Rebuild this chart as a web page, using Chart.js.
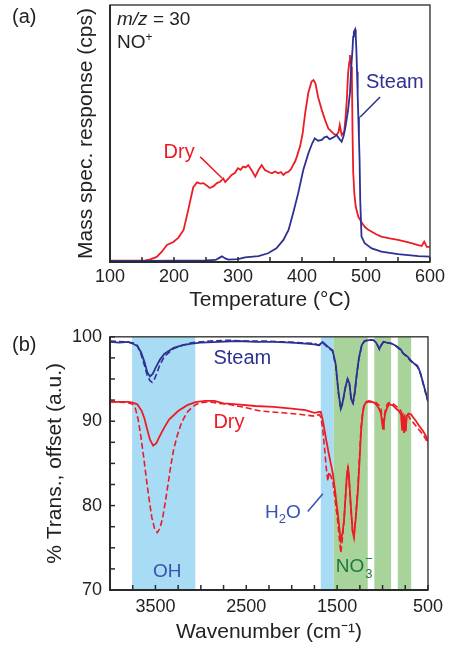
<!DOCTYPE html>
<html>
<head>
<meta charset="utf-8">
<script src="https://cdn.jsdelivr.net/npm/chart.js@4.4.0/dist/chart.umd.min.js"></script>
<style>
  body { margin: 0; background: #fff; width: 449px; height: 646px; position: relative; overflow: hidden; }
  #tpdChart { position: absolute; left: 0; top: 0; }
  #irChart { position: absolute; left: 0; top: 318px; }
</style>
</head>
<body>
<canvas id="tpdChart" width="449" height="318"></canvas>
<canvas id="irChart" width="449" height="328"></canvas>
<script>
// ---- (a) TPD, m/z = 30 ----
const dryTemp = [100,130,155,162,173,181,189,199,207,215,222,230,236,241,246,251,256,262,267,272,277,280,285,290,295,300,304,308,312,316,321,327,332,337,342,348,353,358,363,367,371,375,379,383,386,389,392,397,401,405,410,415,418,421,425,431,436,441,446,450,454,457,459,462,466,468,470,472,474,475,477,478,479,480,482,484,488,493,498,503,509,516,524,537,550,560,571,580,587,591,595,600];
const dryCps = [0.5,0.5,0.6,0.9,2,4,6.6,7.8,9.5,12.5,20,29,31,30.5,30.7,29.8,28.8,29.5,30.7,31.2,32.5,31.1,32.4,33.9,34.6,36.5,35.9,37.1,36.8,37.7,35.8,33.2,35.8,37.7,35.8,35,34.5,35.2,34.5,35,33.9,34.8,35.1,36.2,37.7,39,41,45,50,58,66,70.2,70.8,69.5,64.3,59.1,55.3,52,50.7,49.8,49.4,50.5,53.3,49.4,50.7,56,62.9,73.3,78,80.5,76,72,50,35,26,21.5,17.6,15.5,13.7,12.6,11.8,10.8,9.9,9.2,8.6,8,7.3,6.7,6.2,7.9,5.9,5.9];

const steamTemp = [100,150,200,250,265,270,275,280,285,300,311,332,347,360,371,379,386,394,402,410,416,420,425,431,435,439,443,446,450,454,458,462,465,468,472,475,477,479,480,481,483,484,485,486,487,488,489,490,491,493,498,509,524,550,582,600];
const steamCps = [0.4,0.4,0.5,0.6,0.8,1.5,2.2,1.4,0.9,1.1,1.8,2.3,3.4,5.3,8.6,12.5,18.9,26.7,35.8,42.3,46.2,48.1,47.2,47.5,48.5,48.8,47.8,48.1,48.6,49.4,48,46.8,49,52.7,59.1,66,76,83,87.7,89.5,90.5,88,82.5,74,65,56.6,48,39.7,24.1,9.9,7.3,5.3,4,3.1,2.3,2.1];

// ---- (b) IR spectra ----
const steamWn = [4000,3900,3800,3750,3700,3660,3620,3590,3560,3530,3500,3450,3400,3300,3200,3100,3000,2800,2600,2400,2200,2000,1850,1750,1700,1660,1600,1550,1515,1485,1460,1440,1410,1385,1365,1345,1325,1305,1285,1260,1230,1200,1150,1100,1070,1050,1035,1015,990,950,900,850,800,770,740,720,690,650,620,600,580,560,540,520,500];
const steamSolid = [99.4,99.3,99.4,99.2,98.9,98.2,97,95.8,95.3,95.6,96.3,97.3,98,98.7,99,99.2,99.3,99.4,99.5,99.4,99.4,99.3,99.2,99.1,99,99.4,98.8,98.4,96.7,93.4,91.5,92.2,94,95,94.5,92.6,92.2,93.5,95.5,97.5,99,99.5,99.6,99.6,99.3,98.9,98.6,99,99.4,99.3,99.2,98.9,98.5,98,97.8,97.6,97.2,96.8,96.6,96.2,95.6,94.8,94,93.2,92.4];

const steamWnD = [4000,3850,3750,3700,3660,3620,3590,3560,3536,3510,3480,3450,3400,3300,3200,3100,2900,2700,2500,2300,2100,1900,1750,1700,1660,1600,1550,1515,1485,1460,1440,1410,1385,1365,1345,1325,1305,1285,1260,1230,1200,1150,1100,1070,1050,1035,1015,990,950,900,850,800,770,740,720,690,650,620,600,580,560,540,520,500];
const steamDashed = [99.5,99.4,99.3,99,98,96.6,95.4,94.8,94.6,95,95.8,96.7,97.7,98.6,99,99.3,99.5,99.6,99.5,99.5,99.4,99.3,99.2,99,99.3,98.7,98.3,96.5,93.3,91.4,92.1,93.9,95,94.4,92.5,92.1,93.4,95.4,97.4,98.9,99.5,99.7,99.6,99.3,98.9,98.5,99,99.4,99.3,99.2,98.9,98.4,98,97.7,97.5,97.1,96.8,96.5,96.1,95.5,94.7,93.9,93.1,92.3];

const dryWn = [4000,3800,3750,3700,3650,3620,3590,3560,3525,3490,3450,3400,3350,3250,3150,3050,2950,2850,2750,2600,2400,2200,2000,1850,1750,1700,1680,1660,1640,1624,1591,1547,1520,1492,1470,1459,1440,1425,1405,1390,1381,1370,1348,1330,1315,1295,1271,1250,1237,1220,1204,1180,1149,1110,1072,1040,1017,1005,995,985,972,950,928,890,851,820,796,785,775,765,755,745,735,715,685,660,630,600,553,520,500];
const drySolid = [92.3,92.3,92.2,92,91.2,90.3,89,87.8,87.1,87.4,88.3,89.3,90.2,91.2,91.9,92.3,92.4,92.4,92.1,92,91.8,91.7,91.5,91.3,91,91.1,91.1,90.2,89,88,86.1,83.8,81.5,79,76.8,75.9,76.8,78.2,81.5,84,84.7,83.5,79.8,77,76.2,78.5,81.8,86,88.8,90.8,91.8,92.3,92.4,92.3,92,91.5,90.9,89.8,89.1,89.8,90.9,91.6,92,91.9,91.5,91.2,90.8,89,90.5,88.6,90.3,88.8,90.6,90.9,90.8,90.4,90,89.5,88.8,88.2,87.6];

const dryWnD = [4000,3800,3750,3720,3690,3660,3630,3600,3570,3540,3510,3480,3450,3420,3390,3360,3330,3300,3260,3220,3180,3140,3100,3050,3000,2900,2800,2700,2500,2343,2100,1900,1750,1700,1680,1660,1640,1620,1602,1590,1570,1547,1520,1492,1470,1459,1445,1425,1405,1390,1381,1370,1348,1330,1315,1295,1271,1250,1237,1220,1204,1180,1149,1110,1072,1040,1017,1005,995,985,972,950,928,890,851,820,796,785,775,765,755,745,735,715,685,660,630,600,553,520,500];
const dryDashed = [92.3,92.2,92,91.5,90.2,88.2,85.8,83.2,80.8,78.6,77.3,76.8,77.3,78.6,80.5,82.6,84.8,86.6,88.3,89.6,90.5,91.2,91.6,92,92.2,92.3,92.1,92,91.6,91.2,91,90.8,90.6,90.8,90.5,89.2,87,84.5,82.9,84,83.5,82.8,80.5,78,75.5,74.4,75.8,78,81.5,84,84.5,83.2,79.5,77,76.4,78.8,82.2,86.5,89.2,91,91.9,92.2,92.3,92.2,92.2,91.9,91.4,90.2,89.5,90.2,91.2,92,92.2,92.1,91.8,91.5,91.2,89.3,91,88.8,90.8,89,90.8,90.6,90.1,89.8,89.4,89,88.4,87.8,87.2];

// shaded assignment bands (wavenumber ranges)
const bandFrom = [3757, 1680, 1539, 1091, 832];
const bandTo = [3061, 1539, 1163, 906, 685];
const bandColor = ['#a8dcf4', '#a8dcf4', '#a8d49c', '#a8d49c', '#a8d49c'];

const RED = '#ed1c24';
const BLUE = '#2e3192';
const FAM = "'Liberation Sans', Arial, sans-serif";

Chart.defaults.font.family = FAM;
Chart.defaults.color = '#222';
Chart.defaults.animation = false;

const toXY = (xs, ys) => xs.map((x, i) => ({ x: x, y: ys[i] }));

// draws the box and inward tick marks
const frameTicks = {
  id: 'frameTicks',
  afterDatasetsDraw(chart, args, opts) {
    const { ctx, chartArea: a, scales } = chart;
    ctx.save();
    ctx.strokeStyle = '#444';
    ctx.lineWidth = 1.5;
    ctx.strokeRect(a.left, a.top, a.right - a.left, a.bottom - a.top);
    ctx.strokeStyle = '#2a2a2a';
    ctx.lineWidth = 2;
    ctx.beginPath();
    ctx.moveTo(a.left, a.top);
    ctx.lineTo(a.left, a.bottom);
    ctx.lineTo(a.right, a.bottom);
    ctx.stroke();
    ctx.lineWidth = 1.5;
    scales.x.ticks.forEach(t => {
      const px = scales.x.getPixelForValue(t.value);
      ctx.beginPath();
      ctx.moveTo(px, a.bottom);
      ctx.lineTo(px, a.bottom - 5);
      ctx.stroke();
    });
    if (opts.yTicks) {
      scales.y.ticks.forEach(t => {
        const py = scales.y.getPixelForValue(t.value);
        ctx.beginPath();
        ctx.moveTo(a.left, py);
        ctx.lineTo(a.left + 5, py);
        ctx.stroke();
      });
    }
    ctx.restore();
  }
};

function txt(ctx, s, x, y, color, size, align, style) {
  ctx.font = (style || '') + ' ' + size + 'px ' + FAM;
  ctx.fillStyle = color;
  ctx.textAlign = align || 'left';
  ctx.textBaseline = 'middle';
  ctx.fillText(s, x, y);
  return ctx.measureText(s).width;
}

function line(ctx, x1, y1, x2, y2, color) {
  ctx.strokeStyle = color;
  ctx.lineWidth = 1.5;
  ctx.beginPath();
  ctx.moveTo(x1, y1);
  ctx.lineTo(x2, y2);
  ctx.stroke();
}

const tpdNotes = {
  id: 'tpdNotes',
  afterDraw(chart) {
    const { ctx, chartArea: a, scales: { x, y } } = chart;
    ctx.save();
    txt(ctx, '(a)', 12, 17, '#222', 20);
    let w = txt(ctx, 'm/z', a.left + 7, a.top + 15, '#222', 19, 'left', 'italic');
    txt(ctx, ' = 30', a.left + 7 + w, a.top + 15, '#222', 19);
    w = txt(ctx, 'NO', a.left + 7, a.top + 38, '#222', 19);
    txt(ctx, '+', a.left + 7 + w, a.top + 33, '#222', 12);
    txt(ctx, 'Dry', x.getPixelForValue(208), y.getPixelForValue(42.8), RED, 20, 'center');
    line(ctx, x.getPixelForValue(241), y.getPixelForValue(40.9), x.getPixelForValue(275), y.getPixelForValue(32.7), RED);
    txt(ctx, 'Steam', x.getPixelForValue(545), y.getPixelForValue(70), BLUE, 20, 'center');
    line(ctx, x.getPixelForValue(522), y.getPixelForValue(64.2), x.getPixelForValue(491), y.getPixelForValue(56.4), BLUE);
    ctx.restore();
  }
};

new Chart(document.getElementById('tpdChart').getContext('2d'), {
  type: 'line',
  data: {
    datasets: [
      { label: 'Steam', data: toXY(steamTemp, steamCps), borderColor: BLUE, borderWidth: 1.8, pointRadius: 0, fill: false },
      { label: 'Dry', data: toXY(dryTemp, dryCps), borderColor: RED, borderWidth: 1.8, pointRadius: 0, fill: false }
    ]
  },
  options: {
    responsive: false,
    layout: { padding: { left: 0, right: 19, top: 5, bottom: 0 } },
    plugins: { legend: { display: false }, tooltip: { enabled: false }, frameTicks: { yTicks: false } },
    scales: {
      x: {
        type: 'linear', min: 100, max: 600,
        grid: { display: false, drawTicks: false }, border: { display: false },
        ticks: { stepSize: 50, autoSkip: false, maxRotation: 0, padding: 4, font: { size: 18 },
                 callback: v => (v % 100 === 0 ? String(v) : '') },
        title: { display: true, text: 'Temperature (°C)', font: { size: 21 }, padding: { top: 0, bottom: 5 } },
        afterFit: s => { s.height = 56; }
      },
      y: {
        min: 0, max: 100,
        grid: { display: false, drawTicks: false }, border: { display: false },
        ticks: { display: false },
        title: { display: true, text: 'Mass spec. response (cps)', font: { size: 21 }, padding: { top: 74, bottom: 0 } },
        afterFit: s => { s.width = 110; }
      }
    }
  },
  plugins: [frameTicks, tpdNotes]
});

const bands = {
  id: 'bands',
  beforeDatasetsDraw(chart) {
    const { ctx, chartArea: a, scales: { x } } = chart;
    ctx.save();
    bandFrom.forEach((f, i) => {
      const x1 = x.getPixelForValue(f);
      const x2 = x.getPixelForValue(bandTo[i]);
      ctx.fillStyle = bandColor[i];
      ctx.fillRect(x1, a.top, x2 - x1, a.bottom - a.top);
    });
    ctx.restore();
  }
};

const irNotes = {
  id: 'irNotes',
  afterDraw(chart) {
    const { ctx, scales: { x, y } } = chart;
    ctx.save();
    txt(ctx, '(b)', 12, 27, '#222', 20);
    txt(ctx, 'Steam', x.getPixelForValue(2862), y.getPixelForValue(97.4), BLUE, 20);
    txt(ctx, 'Dry', x.getPixelForValue(2862), y.getPixelForValue(89.9), RED, 20);
    txt(ctx, 'OH', x.getPixelForValue(3370), y.getPixelForValue(72.2), '#3852b0', 19, 'center');
    // H2O, right aligned
    const hx = x.getPixelForValue(1901), hy = y.getPixelForValue(79.1);
    ctx.font = '19px ' + FAM;
    const wO = ctx.measureText('O').width;
    ctx.font = '13px ' + FAM;
    const w2 = ctx.measureText('2').width;
    ctx.font = '19px ' + FAM;
    const wH = ctx.measureText('H').width;
    const hStart = hx - wO - w2 - wH;
    txt(ctx, 'H', hStart, hy, '#3852b0', 19);
    txt(ctx, '2', hStart + wH, hy + 6, '#3852b0', 13);
    txt(ctx, 'O', hStart + wH + w2, hy, '#3852b0', 19);
    line(ctx, x.getPixelForValue(1823), y.getPixelForValue(79.3), x.getPixelForValue(1657), y.getPixelForValue(81.4), '#3852b0');
    // NO3-
    const nx = x.getPixelForValue(1514), ny = y.getPixelForValue(72.7);
    const wNO = txt(ctx, 'NO', nx, ny, '#1c7a3c', 19);
    txt(ctx, '3', nx + wNO + 1, ny + 7, '#1c7a3c', 13);
    txt(ctx, '\u2212', nx + wNO + 1, ny - 8, '#1c7a3c', 13);
    ctx.restore();
  }
};

new Chart(document.getElementById('irChart').getContext('2d'), {
  type: 'line',
  data: {
    datasets: [
      { label: 'Steam', data: toXY(steamWn, steamSolid), borderColor: BLUE, borderWidth: 1.8, pointRadius: 0, fill: false },
      { label: 'Steam (dashed)', data: toXY(steamWnD, steamDashed), borderColor: BLUE, borderWidth: 1.6, borderDash: [6, 3], pointRadius: 0, fill: false },
      { label: 'Dry', data: toXY(dryWn, drySolid), borderColor: RED, borderWidth: 1.8, pointRadius: 0, fill: false },
      { label: 'Dry (dashed)', data: toXY(dryWnD, dryDashed), borderColor: RED, borderWidth: 1.6, borderDash: [6, 3], pointRadius: 0, fill: false }
    ]
  },
  options: {
    responsive: false,
    layout: { padding: { left: 0, right: 20, top: 17, bottom: 0 } },
    plugins: { legend: { display: false }, tooltip: { enabled: false }, frameTicks: { yTicks: true } },
    scales: {
      x: {
        type: 'linear', min: 500, max: 4000, reverse: true,
        grid: { display: false, drawTicks: false }, border: { display: false },
        ticks: { stepSize: 250, autoSkip: false, maxRotation: 0, padding: 6, font: { size: 18 },
                 callback: v => (v % 1000 === 500 ? String(v) : '') },
        title: { display: true, text: 'Wavenumber (cm\u207B\u00B9)', font: { size: 21 }, padding: { top: 0, bottom: 1 } },
        afterFit: s => { s.height = 56; }
      },
      y: {
        min: 70, max: 100,
        grid: { display: false, drawTicks: false }, border: { display: false },
        ticks: { stepSize: 2.5, autoSkip: false, padding: 8, font: { size: 18 },
                 callback: v => (v % 10 === 0 ? String(v) : '') },
        title: { display: true, text: '% Trans., offset (a.u.)', font: { size: 21 }, padding: { top: 43, bottom: 0 } },
        afterFit: s => { s.width = 110; }
      }
    }
  },
  plugins: [bands, frameTicks, irNotes]
});
</script>
</body>
</html>
